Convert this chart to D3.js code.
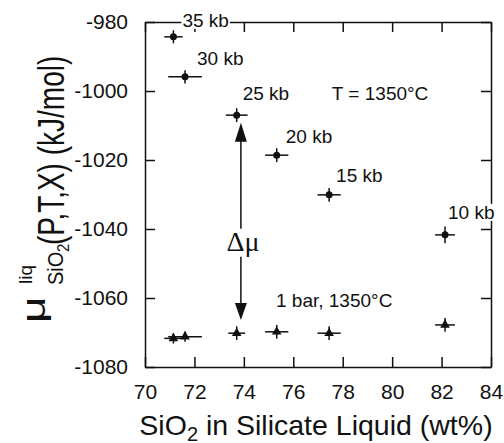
<!DOCTYPE html>
<html>
<head>
  <meta charset="utf-8">
  <script src="https://cdn.jsdelivr.net/npm/d3@7"></script>
  <style>
    body { margin: 0; background: #fff; overflow: hidden; }
    svg { display: block; }
  </style>
</head>
<body>
  <svg width="504" height="443" id="mainsvg"></svg>
  <script>
    // data
    const xTicks = [70, 72, 74, 76, 78, 80, 82, 84];
    const yTicks = [-980, -1000, -1020, -1040, -1060, -1080];
    const pressureLabels = ['35 kb', '30 kb', '25 kb', '20 kb', '15 kb', '10 kb'];
    const silica = [71.15, 71.62, 73.71, 75.33, 77.45, 82.14];
    const silicaErr = [0.37, 0.68, 0.44, 0.47, 0.47, 0.40];
    const muHighP = [-984.3, -995.9, -1007.0, -1018.6, -1030.1, -1041.7];
    const muHighPErr = [1.9, 1.9, 2.0, 2.0, 2.0, 2.4];
    const silicaErr1Bar = [0.37, 0.68, 0.34, 0.47, 0.47, 0.40];
    const muOneBar = [-1071.7, -1071.2, -1070.2, -1069.8, -1070.2, -1067.8];
    const muOneBarErr = [1.5, 1.5, 2.0, 2.0, 2.0, 2.0];

    const sans = '"Liberation Sans", Arial, Helvetica, sans-serif';
    const serif = '"Liberation Serif", "Times New Roman", serif';

    const svg = d3.select('#mainsvg')
      .attr('font-family', sans);
    const margin = { top: 22, left: 145, right: 13, bottom: 76 };
    const innerWidth = +svg.attr('width') - margin.left - margin.right;
    const innerHeight = +svg.attr('height') - margin.top - margin.bottom;

    const xScale = d3.scaleLinear().domain([70, 84]).range([0, innerWidth]);
    const yScale = d3.scaleLinear().domain([-980, -1080]).range([0, innerHeight]);

    const g = svg.append('g')
      .attr('transform', `translate(${margin.left}, ${margin.top})`)
      .attr('fill', '#111');

    // axes, ticks pointing inward on all four sides
    const styleAxis = sel => {
      sel.attr('font-family', sans).attr('font-size', 21);
      sel.selectAll('path, line').attr('stroke', '#111').attr('stroke-width', 1.5);
      sel.selectAll('text').attr('fill', '#111');
    };
    const plain = d => String(d);
    g.append('g').call(d3.axisLeft(yScale).tickValues(yTicks).tickFormat(plain)
        .tickSizeInner(-10).tickSizeOuter(0).tickPadding(17))
      .call(styleAxis);
    g.append('g').attr('transform', `translate(0, ${innerHeight})`)
      .call(d3.axisBottom(xScale).tickValues(xTicks).tickFormat(plain)
        .tickSizeInner(-10).tickSizeOuter(0).tickPadding(17))
      .call(styleAxis);
    g.append('g')
      .call(d3.axisTop(xScale).tickValues(xTicks).tickSizeInner(-10).tickSizeOuter(0))
      .call(styleAxis)
      .call(a => a.selectAll('text').remove());
    g.append('g').attr('transform', `translate(${innerWidth}, 0)`)
      .call(d3.axisRight(yScale).tickValues(yTicks).tickSizeInner(-10).tickSizeOuter(0))
      .call(styleAxis)
      .call(a => a.selectAll('text').remove());

    const highP = silica.map((x, i) => ({ x, y: muHighP[i], xe: silicaErr[i], ye: muHighPErr[i], label: pressureLabels[i] }));
    const oneBar = silica.map((x, i) => ({ x, y: muOneBar[i], xe: silicaErr1Bar[i], ye: muOneBarErr[i] }));

    // error bars
    const drawErrors = (data) => {
      const eg = g.append('g').attr('stroke', '#111').attr('stroke-width', 1.5);
      eg.selectAll('.h').data(data).enter().append('line')
        .attr('x1', d => xScale(d.x - d.xe)).attr('x2', d => xScale(d.x + d.xe))
        .attr('y1', d => yScale(d.y)).attr('y2', d => yScale(d.y));
      eg.selectAll('.v').data(data).enter().append('line')
        .attr('x1', d => xScale(d.x)).attr('x2', d => xScale(d.x))
        .attr('y1', d => yScale(d.y - d.ye)).attr('y2', d => yScale(d.y + d.ye));
    };
    drawErrors(highP);
    drawErrors(oneBar);

    g.selectAll('.dot').data(highP).enter().append('circle')
      .attr('cx', d => xScale(d.x)).attr('cy', d => yScale(d.y))
      .attr('r', 3.5).attr('fill', '#111');

    g.selectAll('.tri').data(oneBar).enter().append('path')
      .attr('d', d3.symbol(d3.symbolTriangle, 40))
      .attr('transform', d => `translate(${xScale(d.x)}, ${yScale(d.y)})`)
      .attr('fill', '#111');

    // pressure labels (offsets in px from each point)
    const labelOffsets = [[9, -10], [12, -12], [6, -15], [9, -12], [7, -13], [3, -16]];
    const labels = g.selectAll('.plabel').data(highP).enter().append('text')
      .attr('x', (d, i) => xScale(d.x) + labelOffsets[i][0])
      .attr('y', (d, i) => yScale(d.y) + labelOffsets[i][1])
      .attr('font-size', 19)
      .text(d => d.label);
    // white background where labels sit over the frame
    labels.each(function (d, i) {
      if (i === 0 || i === 5) {
        const b = this.getBBox();
        g.insert('rect', function () { return labels.nodes()[i]; })
          .attr('x', b.x - 1).attr('y', b.y + 2).attr('width', b.width + 2).attr('height', b.height - 4)
          .attr('fill', '#fff');
      }
    });

    g.append('text').attr('x', xScale(77.56)).attr('y', yScale(-1002.6))
      .attr('font-size', 19).text('T = 1350°C');
    g.append('text').attr('x', xScale(75.3)).attr('y', yScale(-1062.7))
      .attr('font-size', 19).text('1 bar, 1350°C');

    // Δμ double arrow
    const ax = xScale(73.88);
    const arrowTop = yScale(-1009.2), arrowBot = yScale(-1066.4);
    g.append('line').attr('x1', ax).attr('x2', ax).attr('y1', arrowTop + 18).attr('y2', arrowBot - 16)
      .attr('stroke', '#111').attr('stroke-width', 1.5);
    g.append('path')
      .attr('d', `M${ax},${arrowTop} L${ax - 6},${arrowTop + 19} L${ax + 6},${arrowTop + 19} Z`)
      .attr('fill', '#111');
    g.append('path')
      .attr('d', `M${ax},${arrowBot} L${ax - 6},${arrowBot - 17} L${ax + 6},${arrowBot - 17} Z`)
      .attr('fill', '#111');
    const dmu = g.append('text').attr('x', ax + 2).attr('y', yScale(-1046.3))
      .attr('text-anchor', 'middle').attr('font-size', 28)
      .attr('font-family', serif)
      .text('Δμ');
    const db = dmu.node().getBBox();
    g.insert('rect', function () { return dmu.node(); })
      .attr('x', db.x).attr('y', db.y + 3).attr('width', db.width).attr('height', db.height - 3)
      .attr('fill', '#fff');

    // x-axis title
    const xt = svg.append('text').attr('x', margin.left + innerWidth / 2 - 2).attr('y', 435)
      .attr('text-anchor', 'middle').attr('font-size', 28.5).attr('fill', '#111');
    xt.append('tspan').text('SiO');
    xt.append('tspan').attr('font-size', 20).attr('dy', 6).text('2');
    xt.append('tspan').attr('dy', -6).text(' in Silicate Liquid (wt%)');

    // y-axis title, pieces rotated
    const yl = svg.append('g').attr('fill', '#111');
    const rot = (bx, sy, kx, ky) => `translate(${bx}, ${sy}) rotate(-90) scale(${kx}, ${ky})`;
    yl.append('text').attr('transform', rot(45, 323, 1.4, 1)).attr('font-size', 33).text('μ');
    yl.append('text').attr('transform', rot(32, 284, 1, 1)).attr('font-size', 19).text('liq');
    yl.append('text').attr('transform', rot(63, 285, 1, 1.1)).attr('font-size', 20).text('SiO');
    yl.append('text').attr('transform', rot(69, 252, 1, 1.1)).attr('font-size', 15).text('2');
    yl.append('text').attr('transform', rot(64, 245, 1, 1.3)).attr('font-size', 28).text('(P,T,X) (kJ/mol)');
  </script>
</body>
</html>
